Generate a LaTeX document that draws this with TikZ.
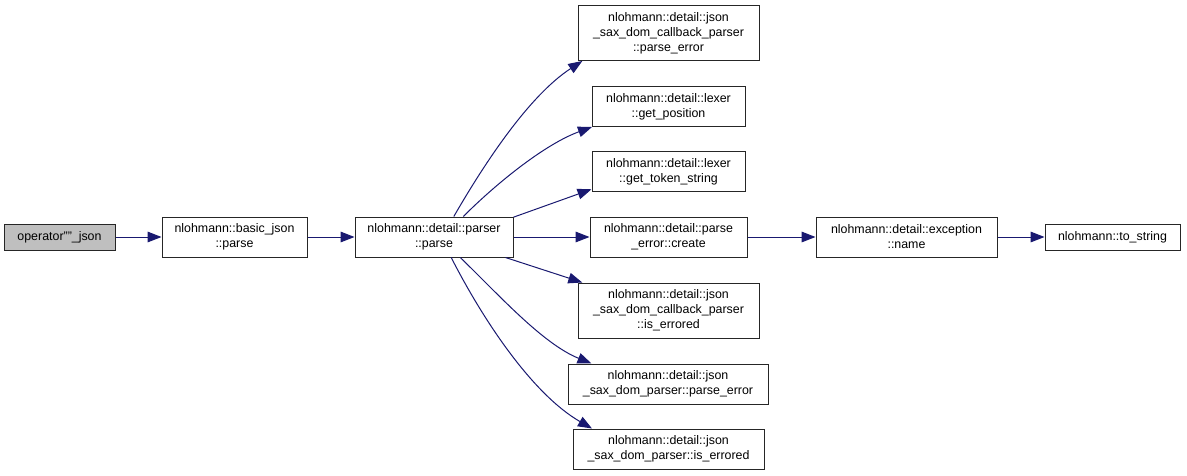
\documentclass[tikz,border=0pt]{standalone}
\usepackage{fontspec}
\setmainfont{Liberation Sans}
\usetikzlibrary{arrows.meta}
\definecolor{edgeblue}{HTML}{191970}
\definecolor{rootgray}{HTML}{BFBFBF}

\begin{document}
\begin{tikzpicture}[
    x=0.75pt, y=-0.75pt,
    func/.style={rectangle, draw=black!85, line width=0.75pt, fill=white, align=center, inner sep=0pt, font=\fontsize{9.3}{11.25}\selectfont},
    one/.style={func, minimum height=19.5pt},
    two/.style={func, minimum height=30pt},
    three/.style={func, minimum height=41.25pt},
    call/.style={-{Triangle[length=10.5pt, width=8pt, fill=edgeblue]}, draw=edgeblue, line width=0.75pt},
]
\useasboundingbox (0,0) rectangle (1187,475);

\node[one, fill=rootgray, minimum width=83.25pt] (op) at (59.5, 237) {operator""\_json};
\node[two, minimum width=108.75pt] (bjparse) at (234.5, 237) {nlohmann::basic\_json\\::parse};
\node[two, minimum width=118.5pt] (parse) at (434, 237) {nlohmann::detail::parser\\::parse};

\node[three, minimum width=135.75pt] (cbpe) at (668.5, 33) {nlohmann::detail::json\\\_sax\_dom\_callback\_parser\\::parse\_error};
\node[two, minimum width=114.75pt] (getpos) at (668.5, 106.5) {nlohmann::detail::lexer\\::get\_position};
\node[two, minimum width=114.75pt] (gettok) at (668.5, 171.5) {nlohmann::detail::lexer\\::get\_token\_string};
\node[two, minimum width=117.75pt] (create) at (668.5, 237) {nlohmann::detail::parse\\\_error::create};
\node[three, minimum width=135.75pt] (cberr) at (668.5, 310.5) {nlohmann::detail::json\\\_sax\_dom\_callback\_parser\\::is\_errored};
\node[two, minimum width=150pt] (saxpe) at (668, 384) {nlohmann::detail::json\\\_sax\_dom\_parser::parse\_error};
\node[two, minimum width=143.25pt] (saxerr) at (668.5, 449) {nlohmann::detail::json\\\_sax\_dom\_parser::is\_errored};

\node[two, minimum width=135.75pt] (exname) at (906.5, 237) {nlohmann::detail::exception\\::name};
\node[one, minimum width=101.25pt] (tostr) at (1112.5, 237) {nlohmann::to\_string};

\draw[call] (op) -- (bjparse);
\draw[call] (bjparse) -- (parse);
\draw[call] (parse.46) to[out=60, in=213, looseness=0.8] (cbpe.-162);
\draw[call] (parse.35) to[out=45, in=200, looseness=0.8] (getpos.-165);
\draw[call] (parse.14) -- (gettok.-167);
\draw[call] (parse) -- (create);
\draw[call] (parse.-16) -- (cberr.162);
\draw[call] (parse.-38) to[out=-44, in=158, looseness=0.8] (saxpe.165);
\draw[call] (parse.-50) to[out=-63, in=150, looseness=0.8] (saxerr.165);
\draw[call] (create) -- (exname);
\draw[call] (exname) -- (tostr);

\end{tikzpicture}
\end{document}
